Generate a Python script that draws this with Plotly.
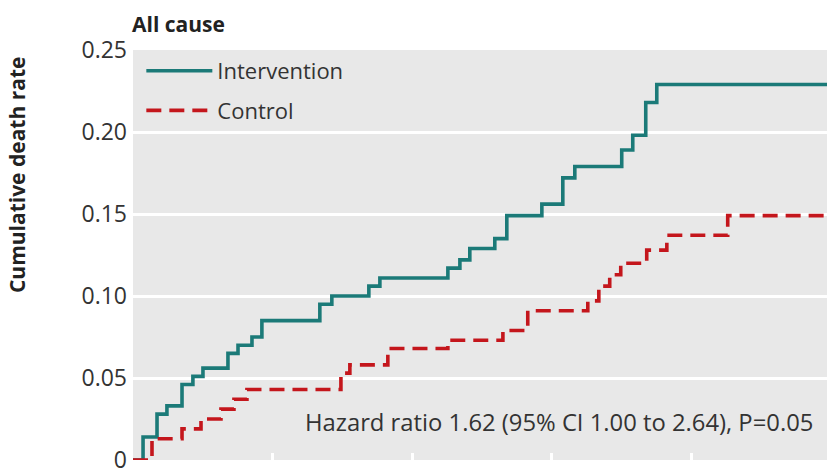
import plotly.graph_objects as go

# Event times (years from randomisation) and cumulative death rates
intervention_t = [0, 0.072, 0.172, 0.243, 0.351, 0.429, 0.501, 0.680, 0.752, 0.852, 0.923,
                  1.338, 1.424, 1.689, 1.768, 2.255, 2.341, 2.412, 2.591, 2.677, 2.928,
                  3.078, 3.164, 3.500, 3.579, 3.672, 3.751, 4.97]
intervention_rate = [0, 0.014, 0.028, 0.033, 0.046, 0.051, 0.056, 0.065, 0.070, 0.075, 0.085,
                     0.095, 0.100, 0.106, 0.111, 0.117, 0.122, 0.129, 0.135, 0.149, 0.156,
                     0.172, 0.179, 0.189, 0.198, 0.218, 0.229, 0.229]

control_t = [0, 0.136, 0.351, 0.487, 0.630, 0.723, 0.816, 1.489, 1.553, 1.825, 2.255,
             2.649, 2.827, 3.257, 3.336, 3.414, 3.493, 3.679, 3.823, 4.259, 4.97]
control_rate = [0, 0.013, 0.019, 0.025, 0.031, 0.037, 0.043, 0.053, 0.058, 0.068, 0.073,
                0.079, 0.091, 0.097, 0.106, 0.113, 0.120, 0.128, 0.137, 0.149, 0.149]

y_ticks = [0, 0.05, 0.10, 0.15, 0.20, 0.25]
y_tick_labels = ["0", "0.05", "0.10", "0.15", "0.20", "0.25"]
x_ticks = [0, 1, 2, 3, 4]

title_text = "All cause"
y_title = "Cumulative death rate"
hr_text = "Hazard ratio 1.62 (95% CI 1.00 to 2.64), P=0.05"

FONT = "Open Sans"
TEXT = "#333333"
TEAL = "#1b7a78"
RED = "#c4161c"

fig = go.Figure()
fig.add_trace(go.Scatter(
    x=intervention_t, y=intervention_rate, mode="lines", name="Intervention",
    legendgroup="intervention",
    line=dict(color=TEAL, width=3.6, shape="hv"),
))
fig.add_trace(go.Scatter(
    x=control_t, y=control_rate, mode="lines", name="Control",
    legendgroup="control",
    line=dict(color=RED, width=3.6, shape="hv", dash="15px,8px"),
))

fig.update_layout(
    width=827, height=475,
    margin=dict(l=133, r=0, t=50, b=12),
    paper_bgcolor="white",
    plot_bgcolor="#e8e8e8",
    font=dict(family=FONT, size=22, color=TEXT),
    showlegend=True,
    legend=dict(
        x=0.012, y=1.0, xanchor="left", yanchor="top",
        bgcolor="rgba(0,0,0,0)", borderwidth=0,
        font=dict(family=FONT, size=22, color=TEXT),
        itemwidth=66, tracegroupgap=8,
    ),
    xaxis=dict(
        range=[0, 4.97], tickvals=x_ticks, showticklabels=False,
        ticks="inside", ticklen=7, tickwidth=3, tickcolor="white",
        showgrid=False, zeroline=False, showline=False,
    ),
    yaxis=dict(
        range=[0, 0.25], tickvals=y_ticks, ticktext=y_tick_labels,
        showgrid=True, gridcolor="white", gridwidth=3,
        zeroline=False, showline=False, ticks="", ticklabelstandoff=5,
        ticklabeloverflow="allow",
        tickfont=dict(family=FONT, size=23, color=TEXT),
    ),
    annotations=[
        dict(text=f"<b>{title_text}</b>", xref="paper", yref="paper",
             x=0, y=1, xanchor="left", yanchor="bottom", yshift=10, xshift=-3,
             showarrow=False, font=dict(family=FONT, size=21, color="#222222")),
        dict(text=f"<b>{y_title}</b>", xref="paper", yref="paper",
             x=0, y=0.695, xanchor="center", yanchor="middle", xshift=-116,
             textangle=-90, showarrow=False,
             font=dict(family=FONT, size=21, color="#222222")),
        dict(text=hr_text, xref="paper", yref="paper",
             x=0.982, y=0.092, xanchor="right", yanchor="middle",
             showarrow=False, font=dict(family=FONT, size=23.8, color=TEXT)),
    ],
)

fig.write_html("out.html")
